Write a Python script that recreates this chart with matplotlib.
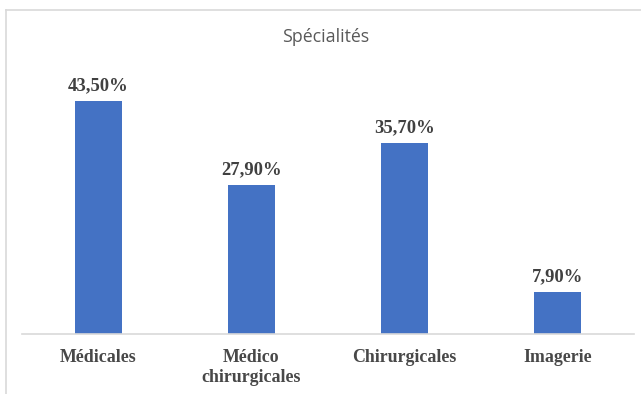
import numpy as np
import matplotlib.pyplot as plt
from matplotlib.lines import Line2D

categories = ['Médicales', 'Médico\nchirurgicales', 'Chirurgicales', 'Imagerie']
values = [43.5, 27.9, 35.7, 7.9]
value_labels = ['43,50%', '27,90%', '35,70%', '7,90%']

W, H = 641, 394
fig = plt.figure(figsize=(W / 100, H / 100), dpi=100)

# axes placed in pixel terms
left, right, base = 22, 634, 334
top = base - 50 * 5.35
ax = fig.add_axes([left / W, (H - base) / H, (right - left) / W, (base - top) / H])

x = np.arange(len(categories))
ax.bar(x, values, width=0.31, color='#4472C4')
ax.set_xlim(-0.5, len(categories) - 0.5)
ax.set_ylim(0, 50)

for xi, v, lab in zip(x, values, value_labels):
    ax.annotate(lab, (xi, v), xytext=(0, 5), textcoords='offset points',
                ha='center', va='bottom', fontsize=13.4, fontweight='bold',
                family='Liberation Serif', color='#404040')

ax.set_xticks(x)
ax.set_xticklabels(categories, fontsize=12.9, fontweight='bold',
                   family='Liberation Serif', color='#484848', linespacing=1.2)
ax.tick_params(axis='x', length=0, pad=11)
ax.set_yticks([])
for s in ['top', 'right', 'left']:
    ax.spines[s].set_visible(False)
ax.spines['bottom'].set_color('#D9D9D9')
ax.spines['bottom'].set_linewidth(1.2)

fig.text(326 / W, 1 - 37 / H, 'Spécialités', ha='center', va='center',
         fontsize=12.8, family='Open Sans', color='#595959')

# outer chart frame (only top and left edges visible)
fig.add_artist(Line2D([5.5 / W, 1], [1 - 9.5 / H, 1 - 9.5 / H],
                      transform=fig.transFigure, color='#D9D9D9', lw=1.2))
fig.add_artist(Line2D([5.5 / W, 5.5 / W], [0, 1 - 9.5 / H],
                      transform=fig.transFigure, color='#D9D9D9', lw=1.2))

fig.savefig('out.png', dpi=100)
